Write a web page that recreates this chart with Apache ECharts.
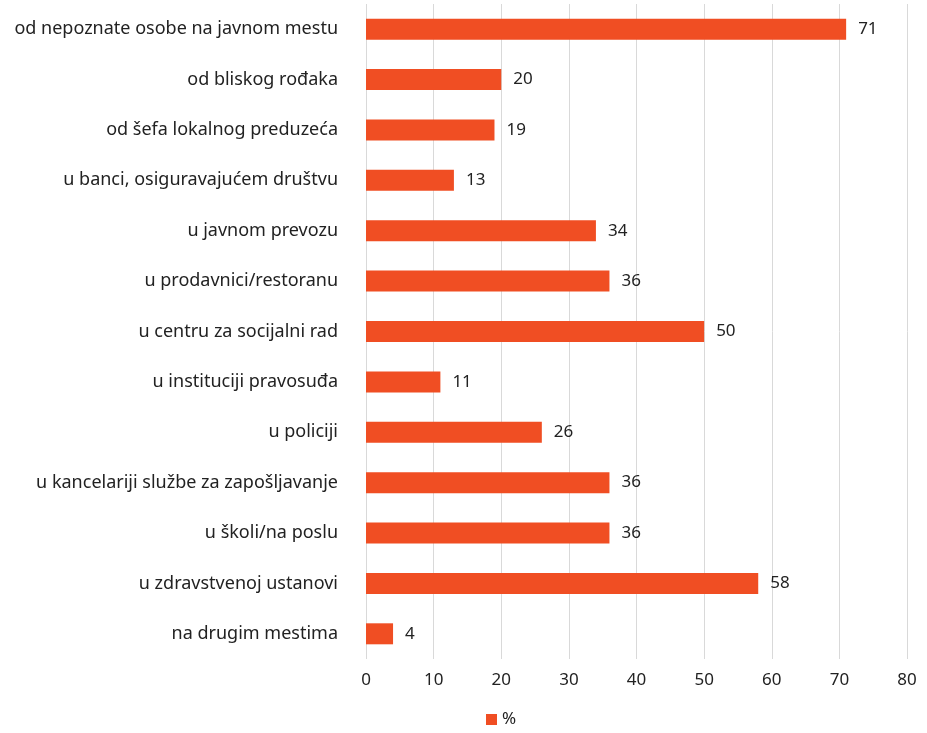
<!DOCTYPE html>
<html>
<head>
    <meta charset="utf-8">
    <title>%</title>
    <script src="https://cdn.jsdelivr.net/npm/echarts@6/dist/echarts.min.js"></script>
    <style>
        html, body { margin: 0; padding: 0; background: #fff; }
        #main { width: 927px; height: 733px; }
    </style>
</head>
<body>
<div id="main"></div>
<script>
    // categories top to bottom, as in the picture
    var categories = [
        'od nepoznate osobe na javnom mestu',
        'od bliskog rođaka',
        'od šefa lokalnog preduzeća',
        'u banci, osiguravajućem društvu',
        'u javnom prevozu',
        'u prodavnici/restoranu',
        'u centru za socijalni rad',
        'u instituciji pravosuđa',
        'u policiji',
        'u kancelariji službe za zapošljavanje',
        'u školi/na poslu',
        'u zdravstvenoj ustanovi',
        'na drugim mestima'
    ];
    var values = [71, 20, 19, 13, 34, 36, 50, 11, 26, 36, 36, 58, 4];
    var seriesName = '%';

    var chart = echarts.init(document.getElementById('main'));
    var font = '"Noto Sans", sans-serif';

    chart.setOption({
        animation: false,
        textStyle: { fontFamily: font },
        grid: { left: 366, right: 20, top: 4, height: 655 },
        legend: {
            bottom: 0,
            left: 481,
            itemWidth: 11,
            itemHeight: 11,
            itemGap: 6,
            icon: 'rect',
            textStyle: { fontSize: 17, color: '#222', fontFamily: font },
            data: [seriesName]
        },
        xAxis: {
            type: 'value',
            min: 0,
            max: 80,
            interval: 10,
            axisLine: { show: false },
            axisTick: { show: false },
            axisLabel: { fontSize: 17, color: '#222', margin: 13 },
            splitLine: { lineStyle: { color: '#d9d9d9', width: 1 } }
        },
        yAxis: {
            type: 'category',
            inverse: true,
            data: categories,
            axisLine: { show: false },
            axisTick: { show: false },
            axisLabel: { fontSize: 18, color: '#222', margin: 28 }
        },
        series: [{
            name: seriesName,
            type: 'bar',
            data: values,
            barWidth: 21,
            itemStyle: { color: '#f04e23' },
            label: {
                show: true,
                position: 'right',
                distance: 12,
                fontSize: 17,
                color: '#222'
            }
        }]
    });
</script>
</body>
</html>
